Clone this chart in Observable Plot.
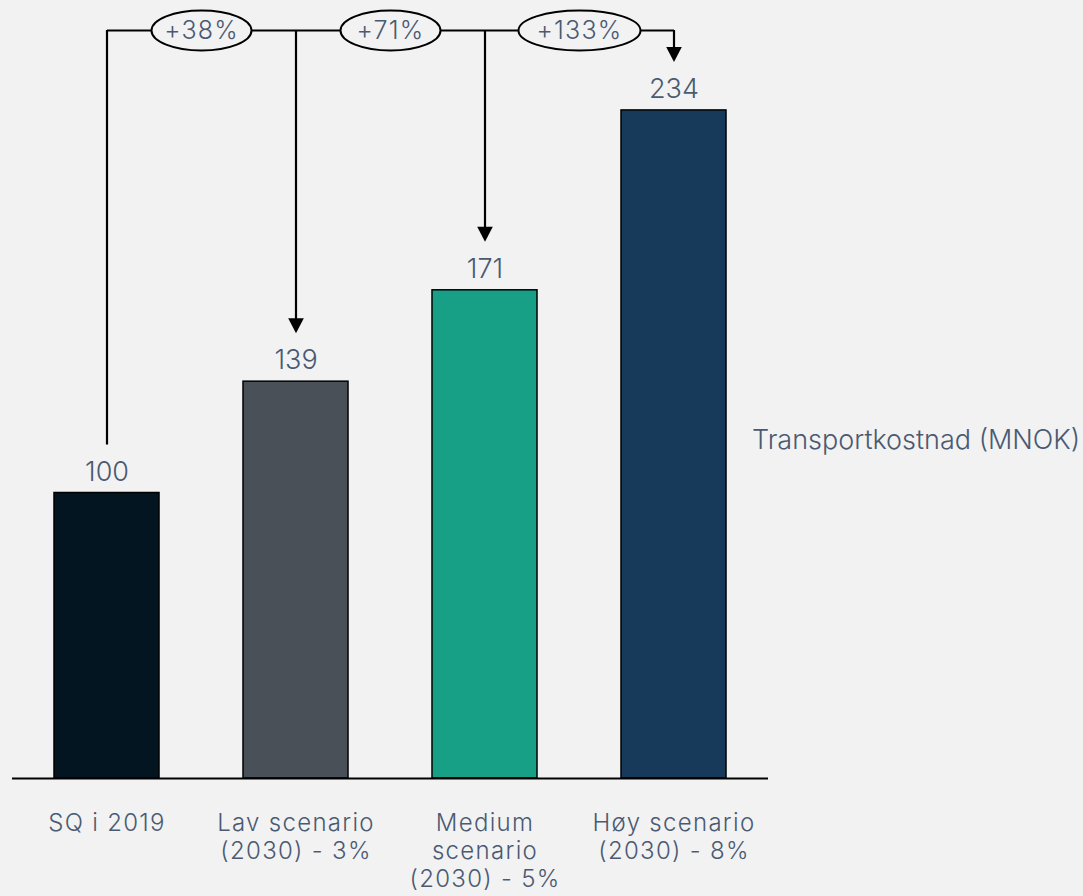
<!DOCTYPE html>
<html>
<head>
<meta charset="utf-8">
<script src="https://cdn.jsdelivr.net/npm/d3@7"></script>
<script src="https://cdn.jsdelivr.net/npm/@observablehq/plot@0.6"></script>
<style>
  body { margin: 0; background: #f2f2f2; }
  #chart { position: relative; width: 1083px; height: 896px; }
  #legend {
    position: absolute; left: 752px; top: 424px;
    font: 300 27px Inter, "Noto Sans", sans-serif; color: #4a5a73;
    line-height: 1.2; white-space: nowrap;
  }
  #chart g[aria-label="x-axis tick label"] text { letter-spacing: 1.3px; }
  #chart g[aria-description="change badge"] text { letter-spacing: 1.2px; }
</style>
</head>
<body>
<div id="chart"><div id="legend">Transportkostnad (MNOK)</div></div>
<script>
// Transport cost per scenario (MNOK)
const scenarios = ["SQ i 2019", "Lav scenario\n(2030) - 3%", "Medium\nscenario\n(2030) - 5%", "Høy scenario\n(2030) - 8%"];
const costs = [100, 139, 171, 234];
const barColors = ["#021520", "#495057", "#17a086", "#173a5a"];
const changeLabels = ["+38%", "+71%", "+133%"];

const textColor = "#4a5a73";
const font = "Inter, 'Noto Sans', sans-serif";

const bars = scenarios.map((s, i) => ({scenario: s, cost: costs[i], color: barColors[i]}));
const changes = changeLabels.map((label, i) => ({scenario: scenarios[i], label}));

// layout of the band scale
const width = 1083, height = 896;
const marginLeft = 12, marginRight = 315, marginTop = 30, marginBottom = 118;
const paddingInner = 0.4444, paddingOuter = 0.2222;
const step = (width - marginLeft - marginRight) / (scenarios.length - paddingInner + 2 * paddingOuter);
const yTop = 262; // level of the connector bracket

// ellipse outline drawn as a d3 symbol
function ellipseSymbol(rx, ry) {
  const k = 0.5523;
  return {
    draw(ctx) {
      ctx.moveTo(rx, 0);
      ctx.bezierCurveTo(rx, k * ry, k * rx, ry, 0, ry);
      ctx.bezierCurveTo(-k * rx, ry, -rx, k * ry, -rx, 0);
      ctx.bezierCurveTo(-rx, -k * ry, -k * rx, -ry, 0, -ry);
      ctx.bezierCurveTo(k * rx, -ry, rx, -k * ry, rx, 0);
      ctx.closePath();
    }
  };
}
// downward filled arrowhead
const arrowDown = {
  draw(ctx) {
    ctx.moveTo(-7.8, -7.5);
    ctx.lineTo(7.8, -7.5);
    ctx.lineTo(0, 7.5);
    ctx.closePath();
  }
};

const chart = Plot.plot({
  width, height, marginLeft, marginRight, marginTop, marginBottom,
  style: {background: "#f2f2f2", fontFamily: font, fontSize: "24px", fontWeight: 300, color: textColor},
  x: {domain: scenarios, paddingInner, paddingOuter, label: null},
  y: {domain: [0, yTop], axis: null},
  marks: [
    Plot.barY(bars, {x: "scenario", y: "cost", fill: "color", stroke: "black", strokeWidth: 1.5}),
    Plot.ruleY([0], {stroke: "black", strokeWidth: 2}),
    Plot.axisX({tickSize: 0, tickPadding: 32, lineHeight: 1.18, fontSize: 24, fill: textColor, label: null}),
    Plot.text(bars, {x: "scenario", y: "cost", text: d => String(d.cost), dy: -21, fontSize: 27, fill: textColor}),
    // connector bracket
    Plot.link([{from: scenarios[0], to: scenarios[scenarios.length - 1]}], {x1: "from", x2: "to", y1: () => yTop, y2: () => yTop, stroke: "black", strokeWidth: 2.2}),
    Plot.ruleX(bars.slice(0, 1), {x: "scenario", y1: () => yTop, y2: "cost", insetBottom: 48, stroke: "black", strokeWidth: 2.2}),
    Plot.ruleX(bars.slice(1), {x: "scenario", y1: () => yTop, y2: "cost", insetBottom: 56, stroke: "black", strokeWidth: 2.2}),
    Plot.dot(bars.slice(1), {x: "scenario", y: "cost", dy: -56, symbol: arrowDown, fill: "black", stroke: "none"}),
    // change badges between consecutive bars
    Plot.dot(changes, {x: "scenario", y: () => yTop, dx: step / 2, symbol: d => ellipseSymbol(6 + 11 * d.label.length, 20), fill: "#f2f2f2", stroke: "black", strokeWidth: 2}),
    Plot.text(changes, {x: "scenario", y: () => yTop, dx: step / 2, text: "label", fontSize: 25, fill: textColor, ariaDescription: "change badge"})
  ]
});

document.getElementById("chart").prepend(chart);
</script>
</body>
</html>
